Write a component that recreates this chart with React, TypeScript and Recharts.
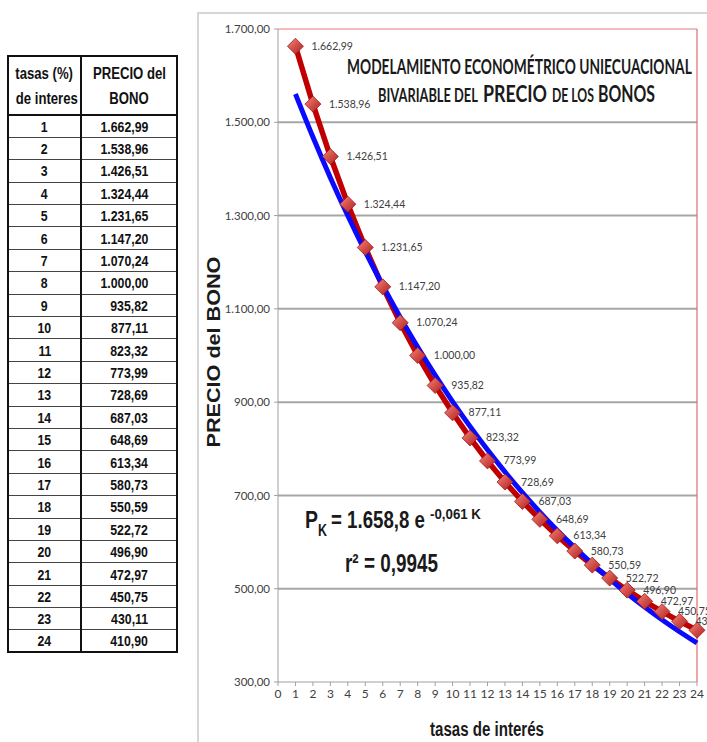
import React, { useLayoutEffect, useRef, useState } from 'react'
import {
  CartesianGrid,
  LabelList,
  Line,
  LineChart,
  ReferenceLine,
  XAxis,
  YAxis
} from 'recharts'

// tasas de interés (%)
const tasas = [1, 2, 3, 4, 5, 6, 7, 8, 9, 10, 11, 12, 13, 14, 15, 16, 17, 18, 19, 20, 21, 22, 23, 24]

// precio del bono observado
const precios = [
  1662.99, 1538.96, 1426.51, 1324.44, 1231.65, 1147.2, 1070.24, 1000.0, 935.82, 877.11, 823.32, 773.99,
  728.69, 687.03, 648.69, 613.34, 580.73, 550.59, 522.72, 496.9, 472.97, 450.75, 430.11, 410.9
]

// línea de tendencia exponencial (P = 1.658,8 e^-0,061K)
const ajuste = [
  1560.6, 1468.3, 1381.3, 1299.6, 1222.6, 1150.3, 1082.2, 1018.1, 957.9, 901.3, 848.0, 797.8,
  750.5, 706.1, 664.3, 625.0, 588.0, 553.2, 520.5, 489.6, 460.7, 433.4, 407.7, 383.6
]

const yTicks = [300, 500, 700, 900, 1100, 1300, 1500, 1700]
const xTicks = [0, 1, 2, 3, 4, 5, 6, 7, 8, 9, 10, 11, 12, 13, 14, 15, 16, 17, 18, 19, 20, 21, 22, 23, 24]

const data = tasas.map((t, i) => ({ tasa: t, precio: precios[i], ajuste: ajuste[i] }))

const NARROW = "'Liberation Sans Narrow', 'Arial Narrow', 'Liberation Sans', Arial, sans-serif"
const CALIBRI = "Lato, 'Open Sans', sans-serif"

function fmt(v: number) {
  const [i, d] = v.toFixed(2).split('.')
  return i.replace(/\B(?=(\d{3})+(?!\d))/g, '.') + ',' + d
}

function Diamond(props: any) {
  const { cx, cy } = props
  if (cx == null || cy == null) return null
  const s = 8
  return (
    <polygon
      points={`${cx},${cy - s} ${cx + s},${cy} ${cx},${cy + s} ${cx - s},${cy}`}
      fill="url(#diamondFill)"
      stroke="#9e1b1b"
      strokeWidth={0.8}
    />
  )
}

function PointLabel(props: any) {
  const { x, y, value } = props
  if (x == null || y == null) return null
  return (
    <text x={x + 16} y={y} dy={3.5} fill="#404040" fontSize={10.5} fontFamily={CALIBRI}>
      {fmt(value)}
    </text>
  )
}

const cell: React.CSSProperties = {
  borderBottom: '1px solid #444',
  padding: 0,
  textAlign: 'center',
  fontFamily: NARROW,
  fontWeight: 700,
  fontSize: 15,
  color: '#111',
  whiteSpace: 'nowrap',
  overflow: 'visible'
}

// squeeze Liberation Sans into an Arial Narrow look
function Narrow({ children, origin = 'center' }: { children: React.ReactNode; origin?: string }) {
  return (
    <span style={{ display: 'inline-block', transform: 'scaleX(0.82)', transformOrigin: `${origin} center` }}>
      {children}
    </span>
  )
}

function Tabla() {
  return (
    <table
      style={{
        position: 'absolute',
        left: 7,
        top: 55,
        width: 169,
        borderCollapse: 'collapse',
        tableLayout: 'fixed',
        border: '2px solid #111'
      }}
    >
      <colgroup>
        <col style={{ width: 73 }} />
        <col style={{ width: 96 }} />
      </colgroup>
      <thead>
        <tr style={{ height: 59 }}>
          <th style={{ ...cell, fontSize: 16, lineHeight: '25px', borderBottom: '2px solid #111', borderRight: '2px solid #111' }}>
            <Narrow>tasas (%)</Narrow>
            <br />
            <Narrow>de interes</Narrow>
          </th>
          <th style={{ ...cell, fontSize: 16, lineHeight: '25px', borderBottom: '2px solid #111' }}>
            <Narrow>PRECIO del</Narrow>
            <br />
            <Narrow>BONO</Narrow>
          </th>
        </tr>
      </thead>
      <tbody>
        {tasas.map((t, i) => (
          <tr key={t} style={{ height: 22.4 }}>
            <td style={{ ...cell, borderRight: '2px solid #111' }}>
              <Narrow>{t}</Narrow>
            </td>
            <td style={{ ...cell, textAlign: 'right', paddingRight: 28 }}>
              <Narrow origin="right">{fmt(precios[i])}</Narrow>
            </td>
          </tr>
        ))}
      </tbody>
    </table>
  )
}

// text squeezed horizontally to a given width (the picture is compressed sideways)
function FitText({
  text,
  x,
  y,
  w,
  size,
  font,
  anchor = 'start',
  rotate = 0
}: {
  text: string
  x: number
  y: number
  w: number
  size: number
  font: string
  anchor?: 'start' | 'middle'
  rotate?: number
}) {
  const ref = useRef<SVGTextElement>(null)
  const [sx, setSx] = useState(1)
  useLayoutEffect(() => {
    const n = ref.current ? ref.current.getComputedTextLength() : 0
    if (n > 0) setSx(w / n)
  }, [w, text])
  return (
    <text
      ref={ref}
      x={0}
      y={0}
      transform={`translate(${x} ${y}) rotate(${rotate}) scale(${sx} 1)`}
      textAnchor={anchor}
      fontFamily={font}
      fontWeight={700}
      fontSize={size}
      fill="#1a1a1a"
    >
      {text}
    </text>
  )
}

type Piece = { text: string; x: number; y: number; w: number; size: number; font: string }

const annotations: Piece[] = [
  { text: 'MODELAMIENTO ECONOMÉTRICO UNIECUACIONAL', x: 347, y: 74, w: 345, size: 21, font: CALIBRI },
  { text: 'BIVARIABLE DEL', x: 378, y: 102, w: 100, size: 18, font: CALIBRI },
  { text: 'PRECIO', x: 483, y: 102, w: 64, size: 23, font: CALIBRI },
  { text: 'DE LOS', x: 552, y: 102, w: 42, size: 18, font: CALIBRI },
  { text: 'BONOS', x: 598, y: 102, w: 57, size: 23, font: CALIBRI },
  { text: 'P', x: 305, y: 528, w: 13, size: 24, font: NARROW },
  { text: 'K', x: 318, y: 536, w: 9, size: 16, font: NARROW },
  { text: '= 1.658,8 e', x: 331, y: 528, w: 94, size: 24, font: NARROW },
  { text: '-0,061 K', x: 430, y: 519, w: 51, size: 14, font: NARROW },
  { text: 'r² = 0,9945', x: 345, y: 572, w: 93, size: 26, font: NARROW }
]

export default function App() {
  return (
    <div style={{ position: 'absolute', left: 0, top: 0, width: 707, height: 742, background: '#fff', overflow: 'hidden' }}>
      <svg width={0} height={0} style={{ position: 'absolute' }}>
        <defs>
          <linearGradient id="diamondFill" x1="0" y1="0" x2="1" y2="1">
            <stop offset="0%" stopColor="#f08a80" />
            <stop offset="55%" stopColor="#d04a44" />
            <stop offset="100%" stopColor="#a82525" />
          </linearGradient>
        </defs>
      </svg>

      <Tabla />

      <div
        style={{
          position: 'absolute',
          left: 197,
          top: 12,
          width: 520,
          height: 740,
          borderLeft: '2px solid #d6d6d6',
          borderTop: '2px solid #d6d6d6',
          boxSizing: 'border-box'
        }}
      />

      <div style={{ position: 'absolute', left: 197, top: 12 }}>
        <LineChart width={510} height={730} data={data} margin={{ top: 17, right: 10, bottom: 0, left: 0 }}>
          <CartesianGrid
            vertical={false}
            stroke="#a6a6a6"
            strokeWidth={2}
            horizontalValues={[500, 700, 900, 1100, 1300, 1500]}
          />
          <XAxis
            dataKey="tasa"
            type="number"
            domain={[0, 24]}
            ticks={xTicks}
            interval={0}
            height={60}
            tickSize={4}
            tickMargin={3}
            stroke="#a0a0a0"
            tick={{ fill: '#404040', fontSize: 12, fontFamily: CALIBRI }}
          />
          <YAxis
            type="number"
            domain={[300, 1700]}
            ticks={yTicks}
            interval={0}
            width={81}
            tickSize={4}
            tickMargin={4}
            stroke="#a0a0a0"
            tickFormatter={fmt}
            tick={{ fill: '#404040', fontSize: 11.5, fontFamily: CALIBRI }}
          />
          <ReferenceLine y={1700} stroke="#f2a5a5" strokeWidth={1.5} />
          <ReferenceLine x={24} stroke="#e46a6a" strokeWidth={1.2} />
          <Line
            dataKey="precio"
            type="linear"
            stroke="#c00000"
            strokeWidth={5.5}
            dot={Diamond}
            activeDot={false}
            isAnimationActive={false}
          >
            <LabelList dataKey="precio" content={PointLabel} />
          </Line>
          <Line
            dataKey="ajuste"
            type="monotone"
            stroke="#0a0aff"
            strokeWidth={5}
            dot={false}
            activeDot={false}
            isAnimationActive={false}
          />
        </LineChart>
      </div>

      <svg width={707} height={742} style={{ position: 'absolute', left: 0, top: 0, pointerEvents: 'none' }}>
        {annotations.map((a) => (
          <FitText key={a.text} {...a} />
        ))}
        <FitText
          text="PRECIO del BONO"
          x={220}
          y={352}
          w={191}
          size={18}
          font="'Liberation Sans', Arial, sans-serif"
          anchor="middle"
          rotate={-90}
        />
        <FitText text="tasas de interés" x={487} y={736} w={114} size={21} font={NARROW} anchor="middle" />
      </svg>
    </div>
  )
}
